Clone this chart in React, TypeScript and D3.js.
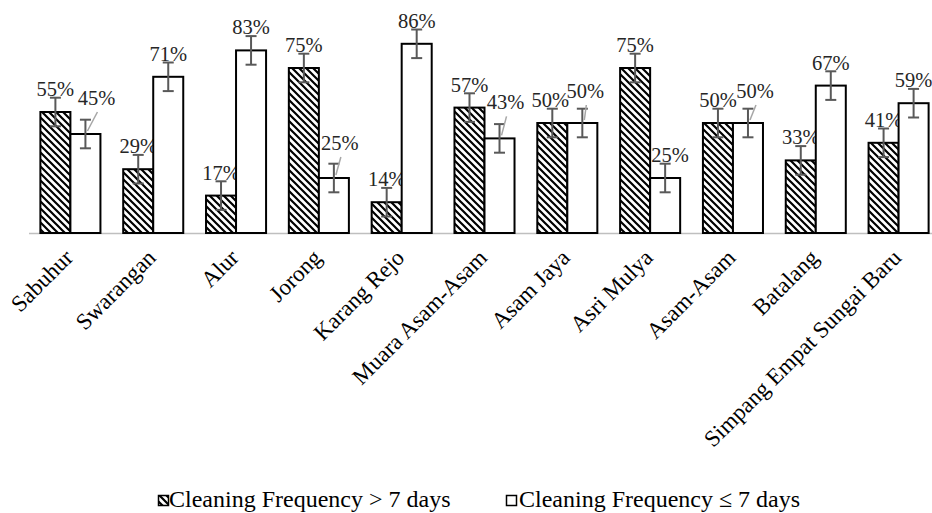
import React from "react";
import * as d3 from "d3";

const categories = [
  "Sabuhur",
  "Swarangan",
  "Alur",
  "Jorong",
  "Karang Rejo",
  "Muara Asam-Asam",
  "Asam Jaya",
  "Asri Mulya",
  "Asam-Asam",
  "Batalang",
  "Simpang Empat Sungai Baru",
];
const seriesNames = ["Cleaning Frequency > 7 days", "Cleaning Frequency \u2264 7 days"];
const over7 = [55, 29, 17, 75, 14, 57, 50, 75, 50, 33, 41];
const under7 = [45, 71, 83, 25, 86, 43, 50, 25, 50, 67, 59];
const errorMargin = 6.5;

// label nudges (layout only): [seriesIndex, categoryIndex, dx, dy, leader]
const labelNudges: [number, number, number, number, boolean][] = [
  [1, 0, 11, -13, true],
  [1, 3, 6, -12, true],
  [1, 5, 6, -13, true],
  [0, 6, -2, 0, false],
  [1, 6, 3, -9, true],
  [1, 7, 5, 0, false],
  [1, 8, 7, -9, true],
];

const W = 932;
const H = 513;

export default function App() {
  const x = d3
    .scaleBand<string>()
    .domain(categories)
    .range([29, 940])
    .paddingInner(0.275)
    .paddingOuter(0.1375);
  const sub = d3
    .scaleBand<string>()
    .domain(["a", "b"])
    .range([0, x.bandwidth()]);
  const y = d3.scaleLinear().domain([0, 100]).range([233, 13]);
  const series = [over7, under7];
  const font = "Liberation Serif, Times New Roman, DejaVu Serif, serif";
  const errColor = "#595959";

  const marks: React.ReactNode[] = [];
  series.forEach((vals, si) => {
    vals.forEach((v, ci) => {
      const x0 = (x(categories[ci]) as number) + (sub(si === 0 ? "a" : "b") as number);
      const bw = sub.bandwidth();
      const cx = x0 + bw / 2;
      const top = y(v);
      marks.push(
        <rect
          key={`b${si}-${ci}`}
          x={x0}
          y={top}
          width={bw}
          height={y(0) - top}
          fill={si === 0 ? "url(#hatch)" : "#fff"}
          stroke="#000"
          strokeWidth={2}
        />
      );
      const e1 = y(v + errorMargin);
      const e2 = y(v - errorMargin);
      marks.push(
        <g key={`e${si}-${ci}`} stroke={errColor} strokeWidth={2}>
          <line x1={cx} x2={cx} y1={e1} y2={e2} />
          <line x1={cx - 5.5} x2={cx + 5.5} y1={e1} y2={e1} />
          <line x1={cx - 5.5} x2={cx + 5.5} y1={e2} y2={e2} />
        </g>
      );
      const nudge = labelNudges.find((n) => n[0] === si && n[1] === ci);
      const dx = nudge ? nudge[2] : 0;
      const dy = nudge ? nudge[3] : 0;
      const lx = cx + dx;
      const ly = top - 16 + dy;
      if (nudge && nudge[4]) {
        marks.push(
          <line
            key={`l${si}-${ci}`}
            x1={lx + 1}
            y1={ly + 7}
            x2={cx + 2}
            y2={top - 3}
            stroke="#a6a6a6"
            strokeWidth={1.5}
          />
        );
      }
      marks.push(
        <text
          key={`t${si}-${ci}`}
          x={lx}
          y={ly}
          textAnchor="middle"
          fontFamily={font}
          fontSize={20.5}
          fill="#262626"
        >
          {v}%
        </text>
      );
    });
  });

  return (
    <svg
      width={W}
      height={H}
      style={{ position: "absolute", left: 0, top: 0, background: "#fff" }}
    >
      <defs>
        <pattern id="hatch" patternUnits="userSpaceOnUse" width={7} height={7}>
          <rect width={7} height={7} fill="#fff" />
          <path d="M-1,-1 L8,8 M-1,6 L1,8 M6,-1 L8,1" stroke="#000" strokeWidth={2.2} />
        </pattern>
      </defs>
      <rect width={W} height={H} fill="#fff" />
      <line x1={29} x2={W} y1={233.5} y2={233.5} stroke="#bfbfbf" strokeWidth={1.5} />
      {marks}
      {categories.map((c) => {
        const cx = (x(c) as number) + x.bandwidth() / 2;
        return (
          <text
            key={c}
            transform={`translate(${cx + 4},${259}) rotate(-45)`}
            textAnchor="end"
            fontFamily={font}
            fontSize={23}
            fill="#000"
          >
            {c}
          </text>
        );
      })}
      <g fontFamily={font} fontSize={24} fill="#000">
        <rect x={158.5} y={495.5} width={10} height={10} fill="url(#hatch)" stroke="#000" strokeWidth={1.5} />
        <text x={169} y={507}>{seriesNames[0]}</text>
        <rect x={506.5} y={495.5} width={10} height={10} fill="#fff" stroke="#000" strokeWidth={1.5} />
        <text x={519} y={507}>{seriesNames[1]}</text>
      </g>
    </svg>
  );
}
